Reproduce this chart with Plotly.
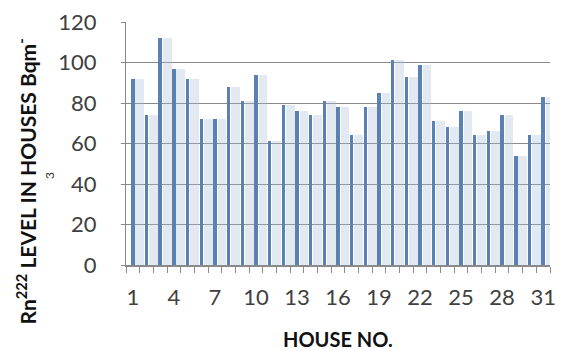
import plotly.graph_objects as go

# Radon-222 concentration measured in each house (Bq m^-3)
houses = list(range(1, 32))
rn_levels = [92, 74, 112, 97, 92, 72, 72, 88, 81, 94, 61, 79, 76, 74, 81,
             78, 64, 78, 85, 101, 93, 99, 71, 68, 76, 64, 66, 74, 54, 64, 83]
x_tick_labels = [1, 4, 7, 10, 13, 16, 19, 22, 25, 28, 31]
y_tick_values = [0, 20, 40, 60, 80, 100, 120]

W, H = 562, 351
L, R, T, B = 126, 6, 22, 86
plot_w = W - L - R
plot_h = H - T - B

fig = go.Figure()

# soft shaded side of each column
fig.add_trace(go.Bar(
    x=houses, y=rn_levels, width=0.64, offset=0.19,
    marker=dict(color="rgba(170,188,214,0.33)", line=dict(width=0)),
    hoverinfo="skip", showlegend=False,
))
# solid front face of each column
fig.add_trace(go.Bar(
    x=houses, y=rn_levels, width=0.25, offset=-0.125,
    marker=dict(color="#5a80b4", line=dict(width=0)),
    showlegend=False,
))

axis_grey = "#8a8a8a"
tick_font = dict(family="Lato, 'Open Sans', sans-serif", size=22, color="#404040")
title_font = dict(family="Lato, 'Open Sans', sans-serif", size=21, color="#111111")

fig.update_layout(
    width=W, height=H,
    margin=dict(l=L, r=R, t=T, b=B),
    paper_bgcolor="white", plot_bgcolor="white",
    barmode="overlay", bargap=0,
    xaxis=dict(
        range=[0.5, 31.5], tickmode="array",
        tickvals=x_tick_labels, ticktext=[str(v) for v in x_tick_labels],
        ticks="", showgrid=False, zeroline=False,
        showline=True, linecolor=axis_grey, linewidth=1.5,
        tickfont=tick_font, ticklabelstandoff=12,
        minor=dict(tick0=0.5, dtick=1, ticks="outside", ticklen=6,
                   tickcolor=axis_grey, tickwidth=1.2, showgrid=False),
    ),
    yaxis=dict(
        range=[0, 120], tickmode="array", tickvals=y_tick_values,
        showgrid=True, gridcolor=axis_grey, gridwidth=1.4,
        zeroline=False, showline=True, linecolor=axis_grey, linewidth=1.3,
        ticks="outside", ticklen=4, tickcolor=axis_grey,
        tickfont=tick_font, ticklabelstandoff=20,
    ),
)

# axis titles
fig.add_annotation(
    text="<b>Rn<sup>222</sup> LEVEL IN HOUSES Bqm<sup>-</sup></b>",
    xref="paper", yref="paper",
    x=(25 - L) / plot_w, y=(H - B - 181) / plot_h,
    xanchor="center", yanchor="middle", textangle=-90,
    showarrow=False, font=title_font,
)
fig.add_annotation(
    text="3",
    xref="paper", yref="paper",
    x=(48 - L) / plot_w, y=(H - B - 176) / plot_h,
    xanchor="center", yanchor="middle", textangle=-90,
    showarrow=False, font=dict(family=title_font["family"], size=12, color="#333333"),
)
fig.add_annotation(
    text="<b>HOUSE NO.</b>",
    xref="paper", yref="paper",
    x=(341 - L) / plot_w, y=(H - B - 339) / plot_h,
    xanchor="center", yanchor="middle",
    showarrow=False, font=dict(family=title_font["family"], size=20, color="#111111"),
)

fig.write_html("out.html")
